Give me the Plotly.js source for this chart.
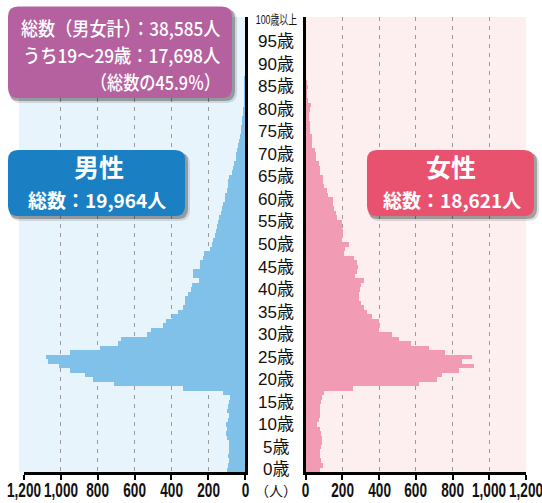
<!DOCTYPE html>
<html>
<head>
<meta charset="utf-8">
<script src="https://cdn.plot.ly/plotly-3.0.1.min.js"></script>
<style>
  html, body { margin: 0; padding: 0; background: #fff; }
  #chart { width: 542px; height: 503px; }
</style>
</head>
<body>
<div id="chart"></div>
<script>
// Ages 0..100 (100 = 100歳以上)
const ages = Array.from({length: 101}, (_, i) => i);

// 男性 (men) by single year of age
const male = [
  96, 91, 85, 92, 87, 89, 85, 96, 105, 100,
  103, 91, 85, 96, 91, 87, 80, 118, 335, 711,
  825, 867, 952, 1010, 1070, 1079, 948, 789, 689, 671,
  534, 513, 447, 430, 398, 362, 339, 326, 326, 308,
  295, 290, 250, 280, 284, 245, 245, 226, 220, 190,
  181, 172, 163, 160, 150, 148, 140, 128, 125, 120,
  110, 108, 100, 93, 90, 85, 70, 65, 58, 50,
  48, 45, 40, 30, 27, 24, 20, 18, 15, 10,
  9, 8, 7, 5, 4, 4, 3, 3, 2, 2,
  1, 1, 1, 0, 0, 0, 0, 0, 0, 0, 0
];

// 女性 (women) by single year of age
const female = [
  76, 95, 85, 80, 76, 85, 91, 87, 85, 80,
  62, 73, 80, 76, 80, 85, 91, 98, 255, 618,
  713, 740, 836, 916, 853, 907, 758, 673, 576, 509,
  470, 400, 405, 400, 360, 335, 315, 300, 290, 292,
  296, 300, 318, 270, 280, 285, 278, 262, 210, 215,
  238, 200, 205, 205, 196, 196, 172, 165, 152, 150,
  148, 122, 118, 98, 96, 94, 80, 78, 75, 56,
  54, 50, 37, 35, 33, 25, 23, 22, 20, 18,
  22, 30, 12, 8, 7, 13, 5, 4, 3, 3,
  2, 2, 1, 1, 1, 0, 0, 0, 0, 0, 0
];

// Age labels down the middle
const ageTicks = [0, 5, 10, 15, 20, 25, 30, 35, 40, 45, 50, 55, 60, 65, 70, 75, 80, 85, 90, 95, 100];
const ageTickText = ageTicks.map(a => a === 100 ? '100歳以上' : a + '歳');

// Count axis ticks
const countTicks = [0, 200, 400, 600, 800, 1000, 1200];
const countTickText = ['0', '200', '400', '600', '800', '1,000', '1,200'];

// Headline boxes
const totalLines = ['総数（男女計）：38,585人', 'うち19〜29歳：17,698人', '（総数の45.9％）'];
const maleTitle = '男性';
const maleTotal = '総数：19,964人';
const femaleTitle = '女性';
const femaleTotal = '総数：18,621人';
const unitLabel = '（人）';

// ---- geometry (pixels of the 542x503 page) ----
const W = 542, H = 503;
const px = x => x / W;
const py = y => 1 - y / H;
const plotTop = 17, plotBottom = 472;
const leftX0 = 24, leftX1 = 245, rightX0 = 305.7, rightX1 = 526;

function roundRect(x0, y0, x1, y1, r) {
  const X = v => px(v).toFixed(5), Y = v => py(v).toFixed(5);
  return `M${X(x0 + r)},${Y(y0)} L${X(x1 - r)},${Y(y0)} Q${X(x1)},${Y(y0)} ${X(x1)},${Y(y0 + r)} ` +
         `L${X(x1)},${Y(y1 - r)} Q${X(x1)},${Y(y1)} ${X(x1 - r)},${Y(y1)} ` +
         `L${X(x0 + r)},${Y(y1)} Q${X(x0)},${Y(y1)} ${X(x0)},${Y(y1 - r)} ` +
         `L${X(x0)},${Y(y0 + r)} Q${X(x0)},${Y(y0)} ${X(x0 + r)},${Y(y0)} Z`;
}

function boxWithShadow(x0, y0, x1, y1, color) {
  return [
    {type: 'path', xref: 'paper', yref: 'paper', layer: 'above', path: roundRect(x0 + 2, y0 + 3, x1 + 5, y1 + 5, 11),
     fillcolor: 'rgba(0,0,0,0.12)', line: {width: 0}},
    {type: 'path', xref: 'paper', yref: 'paper', layer: 'above', path: roundRect(x0 + 1, y0 + 2, x1 + 3, y1 + 3, 10),
     fillcolor: 'rgba(0,0,0,0.28)', line: {width: 0}},
    {type: 'path', xref: 'paper', yref: 'paper', layer: 'above', path: roundRect(x0, y0, x1, y1, 10),
     fillcolor: color, line: {width: 0}}
  ];
}

const jpFont = 'Liberation Sans, Noto Sans CJK JP, sans-serif';
const cjkFont = 'Noto Sans CJK JP, sans-serif';
const digitFont = 'Liberation Sans, Arial, sans-serif';

const traces = [
  {type: 'bar', orientation: 'h', y: ages, x: male, xaxis: 'x', yaxis: 'y',
   width: 1, marker: {color: '#80c1ea', line: {width: 0}}, hoverinfo: 'skip'},
  {type: 'bar', orientation: 'h', y: ages, x: female, xaxis: 'x2', yaxis: 'y2',
   width: 1, marker: {color: '#f19bb5', line: {width: 0}}, hoverinfo: 'skip'}
];

const xCommon = {
  tickmode: 'array', tickvals: countTicks, showticklabels: false,
  showgrid: true, gridcolor: '#9b9b9b', gridwidth: 1, griddash: '4px,5px',
  zeroline: false,
  showline: true, linecolor: '#000', linewidth: 2.5,
  ticks: 'outside', ticklen: 5, tickwidth: 2, tickcolor: '#000',
  fixedrange: true
};

const yCommon = {
  range: [-0.5, 100.5], domain: [py(plotBottom), py(plotTop)],
  showgrid: false, zeroline: false, showticklabels: false, ticks: '',
  showline: true, linecolor: '#000', linewidth: 2.5, layer: 'above traces',
  fixedrange: true
};

// Annotations; `squeeze` holds horizontal compression for condensed-looking labels
const annotations = [];
const squeeze = {};
function addAnn(a, sq) {
  if (sq) squeeze[annotations.length] = sq;
  annotations.push(Object.assign({showarrow: false}, a));
}

ageTicks.forEach((a, i) => {
  if (a === 100) {
    addAnn({xref: 'paper', yref: 'y', x: px(276), y: a, xanchor: 'center', yanchor: 'middle',
      text: ageTickText[i], font: {family: jpFont, size: 13, color: '#111'}}, {factor: 0.68, anchor: 'center'});
  } else {
    addAnn({xref: 'paper', yref: 'y', x: px(275.5), y: a, xanchor: 'center', yanchor: 'middle',
      text: ageTickText[i], font: {family: jpFont, size: 17, color: '#111'}});
  }
});

// count tick labels under both panels
countTicks.forEach((v, i) => {
  ['x', 'x2'].forEach(ax => {
    addAnn({xref: ax, yref: 'paper', x: v, y: py(490), xanchor: 'center', yanchor: 'middle',
      text: '<b>' + countTickText[i] + '</b>', font: {family: digitFont, size: 20, color: '#111'}},
      {factor: 0.68, anchor: 'center'});
  });
});
addAnn({xref: 'paper', yref: 'paper', x: px(276), y: py(490), xanchor: 'center', yanchor: 'middle',
  text: unitLabel, font: {family: cjkFont, size: 14, color: '#111'}});

const boxLineY = [27, 55, 82];
const boxLineW = [202, 200, 132];
totalLines.forEach((t, i) => {
  addAnn({xref: 'paper', yref: 'paper', x: px(222), y: py(boxLineY[i]), xanchor: 'right', yanchor: 'middle',
    text: t, font: {family: cjkFont, size: 19, color: '#fff', weight: 500}},
    {width: boxLineW[i], anchor: 'right'});
});
addAnn({xref: 'paper', yref: 'paper', x: px(99), y: py(166), xanchor: 'center', yanchor: 'middle',
  text: '<b>' + maleTitle + '</b>', font: {family: cjkFont, size: 25, color: '#fff'}});
addAnn({xref: 'paper', yref: 'paper', x: px(96.5), y: py(199), xanchor: 'center', yanchor: 'middle',
  text: '<b>' + maleTotal + '</b>', font: {family: cjkFont, size: 19, color: '#fff'}},
  {width: 152, anchor: 'center'});
addAnn({xref: 'paper', yref: 'paper', x: px(451), y: py(166), xanchor: 'center', yanchor: 'middle',
  text: '<b>' + femaleTitle + '</b>', font: {family: cjkFont, size: 25, color: '#fff'}});
addAnn({xref: 'paper', yref: 'paper', x: px(451.5), y: py(199), xanchor: 'center', yanchor: 'middle',
  text: '<b>' + femaleTotal + '</b>', font: {family: cjkFont, size: 19, color: '#fff'}},
  {width: 148, anchor: 'center'});

const shapes = [
  {type: 'rect', xref: 'paper', yref: 'paper', layer: 'below',
   x0: px(19), x1: px(leftX1), y0: py(plotBottom), y1: py(plotTop), fillcolor: '#e7f4fc', line: {width: 0}},
  {type: 'rect', xref: 'paper', yref: 'paper', layer: 'below',
   x0: px(rightX0), x1: px(rightX1), y0: py(plotBottom), y1: py(plotTop), fillcolor: '#fdeef0', line: {width: 0}},
  ...boxWithShadow(8, 6.5, 232, 98, '#b5609f'),
  ...boxWithShadow(8, 150, 185, 216, '#1b7fc4'),
  ...boxWithShadow(367, 150, 534, 216, '#e8526f')
];

const layout = {
  width: W, height: H,
  margin: {l: 0, r: 0, t: 0, b: 0, pad: 0},
  paper_bgcolor: '#fff', plot_bgcolor: 'rgba(0,0,0,0)',
  showlegend: false, bargap: 0,
  xaxis: Object.assign({}, xCommon, {domain: [px(leftX0), px(leftX1)], range: [1200, 0], anchor: 'y'}),
  xaxis2: Object.assign({}, xCommon, {domain: [px(rightX0), px(rightX1)], range: [0, 1200], anchor: 'y2'}),
  yaxis: Object.assign({}, yCommon, {anchor: 'x', side: 'right'}),
  yaxis2: Object.assign({}, yCommon, {anchor: 'x2', side: 'left', matches: 'y'}),
  shapes: shapes,
  annotations: annotations
};

// Narrow selected labels horizontally around their anchor point
function condenseLabels(gd) {
  gd.querySelectorAll('g.annotation').forEach(g => {
    const sq = squeeze[+g.getAttribute('data-index')];
    if (!sq) return;
    const bb = g.getBBox();
    if (!bb.width) return;
    const f = sq.factor || Math.min(1, sq.width / bb.width);
    const ax = sq.anchor === 'right' ? bb.x + bb.width : bb.x + bb.width / 2;
    g.setAttribute('transform', `translate(${ax},0) scale(${f},1) translate(${-ax},0)`);
  });
}

Plotly.newPlot('chart', traces, layout, {staticPlot: true, displayModeBar: false}).then(condenseLabels);
</script>
</body>
</html>
